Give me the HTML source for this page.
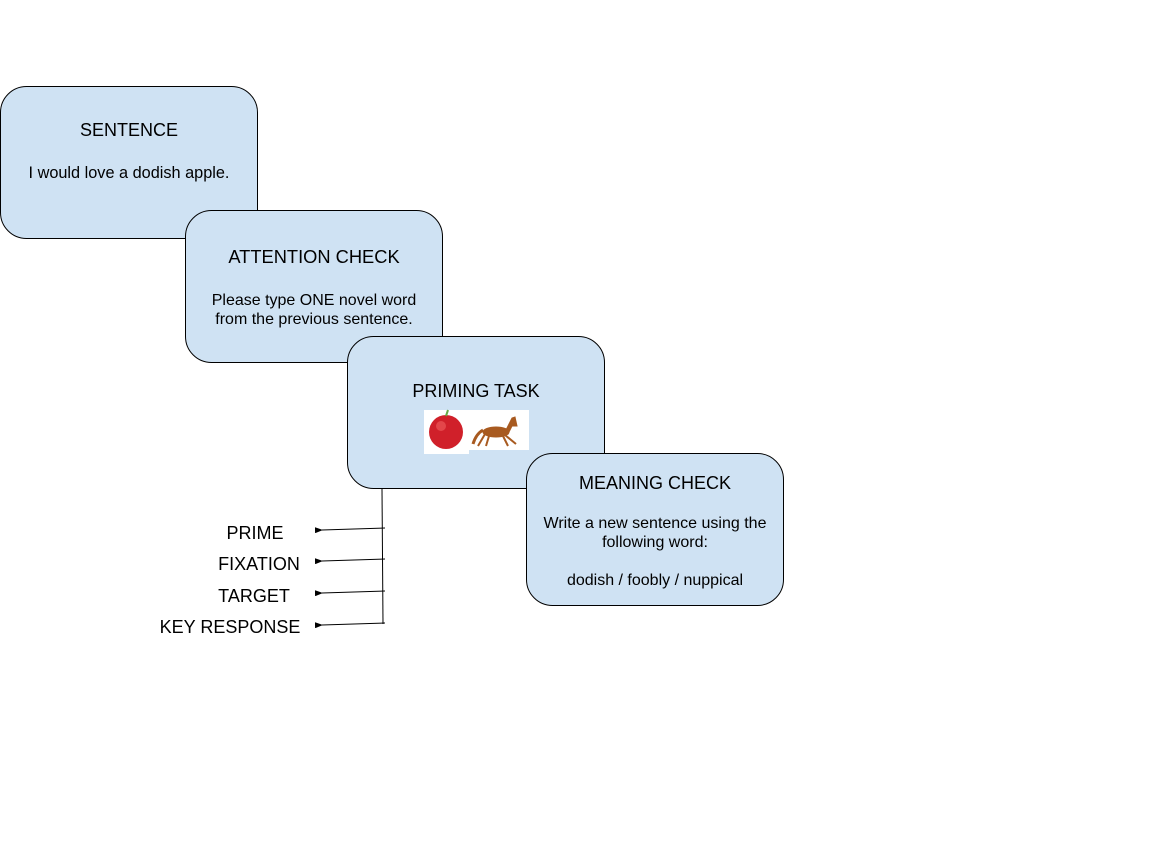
<!DOCTYPE html>
<html><head><style>
body{margin:0;width:1152px;height:864px;background:#fff;overflow:hidden;font-family:"Liberation Sans",Arial,sans-serif;}
svg{position:absolute;left:0;top:0}
text{font-family:"Liberation Sans",Arial,sans-serif;fill:#000}
</style></head><body>
<svg width="1152" height="864" viewBox="0 0 1152 864">
<defs><marker id="a" markerWidth="8" markerHeight="6" refX="1" refY="3" orient="auto"><path d="M8,0 L0,3 L8,6 z" fill="#000"/></marker></defs>
<g fill="#cfe2f3" stroke="#000" stroke-width="1">
<rect x="0.5" y="86.5" width="257" height="152" rx="26"/>
<rect x="185.5" y="210.5" width="257" height="152" rx="26"/>
<rect x="347.5" y="336.5" width="257" height="152" rx="26"/>
<rect x="526.5" y="453.5" width="257" height="152" rx="26"/>
</g>
<g text-anchor="middle">
<text x="129" y="136" font-size="18">SENTENCE</text>
<text x="129" y="178" font-size="16.3">I would love a dodish apple.</text>
<text x="314" y="263" font-size="18.3">ATTENTION CHECK</text>
<text x="314" y="305" font-size="16">Please type ONE novel word</text>
<text x="314" y="324" font-size="16">from the previous sentence.</text>
<text x="476" y="397" font-size="18">PRIMING TASK</text>
<text x="655" y="489" font-size="18">MEANING CHECK</text>
<text x="655" y="528" font-size="16">Write a new sentence using the</text>
<text x="655" y="547" font-size="16">following word:</text>
<text x="655" y="585" font-size="16">dodish / foobly / nuppical</text>
<text x="255" y="539" font-size="18">PRIME</text>
<text x="259" y="570" font-size="18">FIXATION</text>
<text x="254" y="602" font-size="18">TARGET</text>
<text x="230" y="633" font-size="18">KEY RESPONSE</text>
</g>
<rect x="424" y="410" width="45" height="44" fill="#fff"/>
<rect x="469" y="410" width="60" height="40" fill="#fff"/>
<circle cx="446" cy="432" r="17" fill="#d0202a"/>
<circle cx="441" cy="426" r="5" fill="#f06060" opacity="0.6"/>
<path d="M446 416 L448 410" stroke="#6a4" stroke-width="2"/>
<g fill="#a85a20" stroke="#a85a20">
<ellipse cx="496" cy="432" rx="13" ry="5"/>
<path d="M506 430 L512 418 L515 417 L517 426 L512 426 L508 434 z"/>
<path d="M485 434 L478 446 M489 436 L486 446 M503 436 L508 446 M505 435 L516 444" stroke-width="2" fill="none"/>
<path d="M483 430 Q476 434 473 444" stroke-width="3" fill="none"/>
</g>
<g stroke="#000" stroke-width="1" fill="none">
<path d="M382 489 L383 624"/>
<path d="M385 528 L322 530" marker-end="url(#a)"/>
<path d="M385 559 L322 561" marker-end="url(#a)"/>
<path d="M385 591 L322 593" marker-end="url(#a)"/>
<path d="M385 623 L322 625" marker-end="url(#a)"/>
</g>
</svg>
</body></html>
